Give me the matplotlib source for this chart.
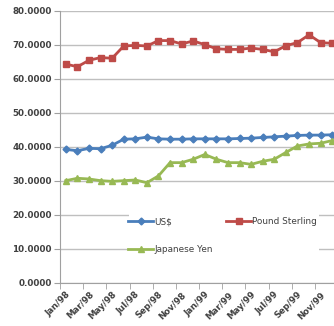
import numpy as np
import matplotlib
matplotlib.use("Agg")
import matplotlib.pyplot as plt
from matplotlib.patches import Rectangle

months = ['Jan/98', 'Feb/98', 'Mar/98', 'Apr/98', 'May/98', 'Jun/98',
          'Jul/98', 'Aug/98', 'Sep/98', 'Oct/98', 'Nov/98', 'Dec/98',
          'Jan/99', 'Feb/99', 'Mar/99', 'Apr/99', 'May/99', 'Jun/99',
          'Jul/99', 'Aug/99', 'Sep/99', 'Oct/99', 'Nov/99', 'Dec/99']
usd = [39.3, 38.9, 39.6, 39.5, 40.5, 42.3, 42.4, 42.9, 42.4, 42.3, 42.3, 42.4,
       42.4, 42.4, 42.4, 42.5, 42.6, 42.8, 43.0, 43.2, 43.4, 43.5, 43.5, 43.6]
gbp = [64.4, 63.6, 65.5, 66.3, 66.1, 69.7, 69.9, 69.7, 71.3, 71.3, 70.3, 71.2,
       70.1, 68.9, 68.7, 68.7, 69.1, 68.7, 68.0, 69.8, 70.7, 73.0, 70.7, 70.5]
jpy = [30.1, 30.8, 30.6, 30.1, 29.9, 30.1, 30.3, 29.5, 31.5, 35.4, 35.4, 36.4,
       37.8, 36.4, 35.4, 35.4, 34.9, 35.8, 36.4, 38.4, 40.3, 40.9, 41.1, 41.9]
yticks = [0, 10, 20, 30, 40, 50, 60, 70, 80]

plt.rcParams['font.family'] = ['DejaVu Sans']

fig = plt.figure(figsize=(3.34, 3.26), dpi=100)
# plot area runs past the right edge, as in the cropped reference
ax = fig.add_axes([60 / 334, 43 / 326, 278 / 334, 272 / 326])

x = np.arange(len(months))
l1, = ax.plot(x, usd, color='#4A7EBB', lw=2, marker='D', ms=3.5, label='US$')
l2, = ax.plot(x, gbp, color='#BE4B48', lw=2, marker='s', ms=5, label='Pound Sterling')
l3, = ax.plot(x, jpy, color='#98B954', lw=2, marker='^', ms=5, label='Japanese Yen')

ax.set_xlim(-0.5, len(months) - 0.5)
ax.set_ylim(0, 80)
ax.set_yticks(yticks)
ax.set_yticklabels(['%.4f' % v for v in yticks], fontsize=6.3, fontweight='bold',
                   color='#404040')
ax.yaxis.grid(True, color='#BFBFBF', lw=1)
ax.set_axisbelow(True)

ax.set_xticks(x[::2])
ax.set_xticklabels(months[::2], rotation=45, ha='right', rotation_mode='anchor',
                   fontsize=6.3, fontweight='bold', color='#404040')
ax.set_xticks(np.arange(-0.5, len(months), 2), minor=True)
ax.tick_params(axis='x', which='major', length=0, pad=5)
ax.tick_params(axis='x', which='minor', length=4, color='#A0A0A0')
ax.tick_params(axis='y', length=4, color='#A0A0A0', pad=2)

for s in ['top', 'right']:
    ax.spines[s].set_visible(False)
for s in ['left', 'bottom']:
    ax.spines[s].set_color('#A0A0A0')

# white legend area that hides the gridlines
ax.add_patch(Rectangle((0.248, 0.03), 0.684, 0.31, transform=ax.transAxes,
                       facecolor='white', edgecolor='none', zorder=1.5))

leg = ax.legend([l1, l3, l2], ['US$', 'Japanese Yen', 'Pound Sterling'], ncol=2,
                loc='center', bbox_to_anchor=(0.585, 0.175), frameon=False,
                fontsize=6.4, handlelength=2.8, columnspacing=1.5,
                handletextpad=0.15, borderpad=0.3, labelspacing=2.1)
for t in leg.get_texts():
    t.set_color('#404040')

fig.savefig('out.png', dpi=100)
